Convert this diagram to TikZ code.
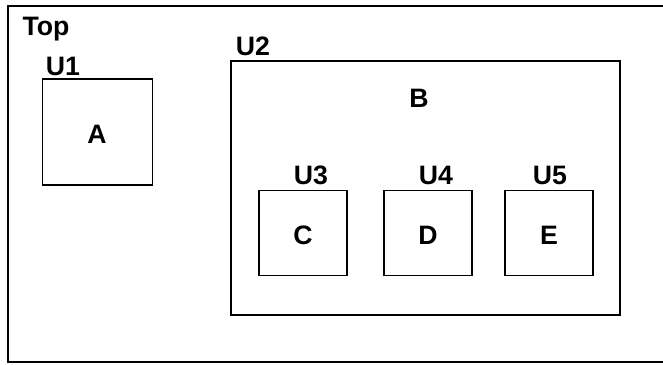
\documentclass[tikz,border=0pt]{standalone}
\usepackage{fontspec}
\setmainfont{Liberation Sans}
\begin{document}
\begin{tikzpicture}[x=0.75pt, y=-0.75pt,
    inst/.style={draw, line width=0.8pt, minimum width=66pt, minimum height=64pt, inner sep=0pt},
    lbl/.style={font=\bfseries\fontsize{20}{24}\selectfont, inner sep=0pt}]
    \useasboundingbox (0,0) rectangle (663,364);
    \clip (0,0) rectangle (663,364);
    % Top
    \draw[line width=1.1pt] (8,6) rectangle (670,362);
    \node[lbl] (top) at (46,29) {Top};
    % U1
    \node[inst, minimum width=83pt, minimum height=79.5pt] (a) at (97.5,132) {};
    \node[lbl] at (97,134) {A};
    \node[lbl] (u1) at (63,66) {U1};
    % U2
    \draw[line width=0.9pt] (231,61) rectangle (620,315);
    \node[lbl] (b) at (419,98) {B};
    \node[lbl] (u2) at (253,46) {U2};
    % U3, U4, U5
    \node[inst] (c) at (303,233) {};
    \node[inst] (d) at (428,233) {};
    \node[inst] (e) at (549,233) {};
    \node[lbl] at (303,235) {C};
    \node[lbl] at (428,235) {D};
    \node[lbl] at (549,235) {E};
    \node[lbl] (u3) at (311,175) {U3};
    \node[lbl] (u4) at (436,175) {U4};
    \node[lbl] (u5) at (550,175) {U5};
\end{tikzpicture}
\end{document}
